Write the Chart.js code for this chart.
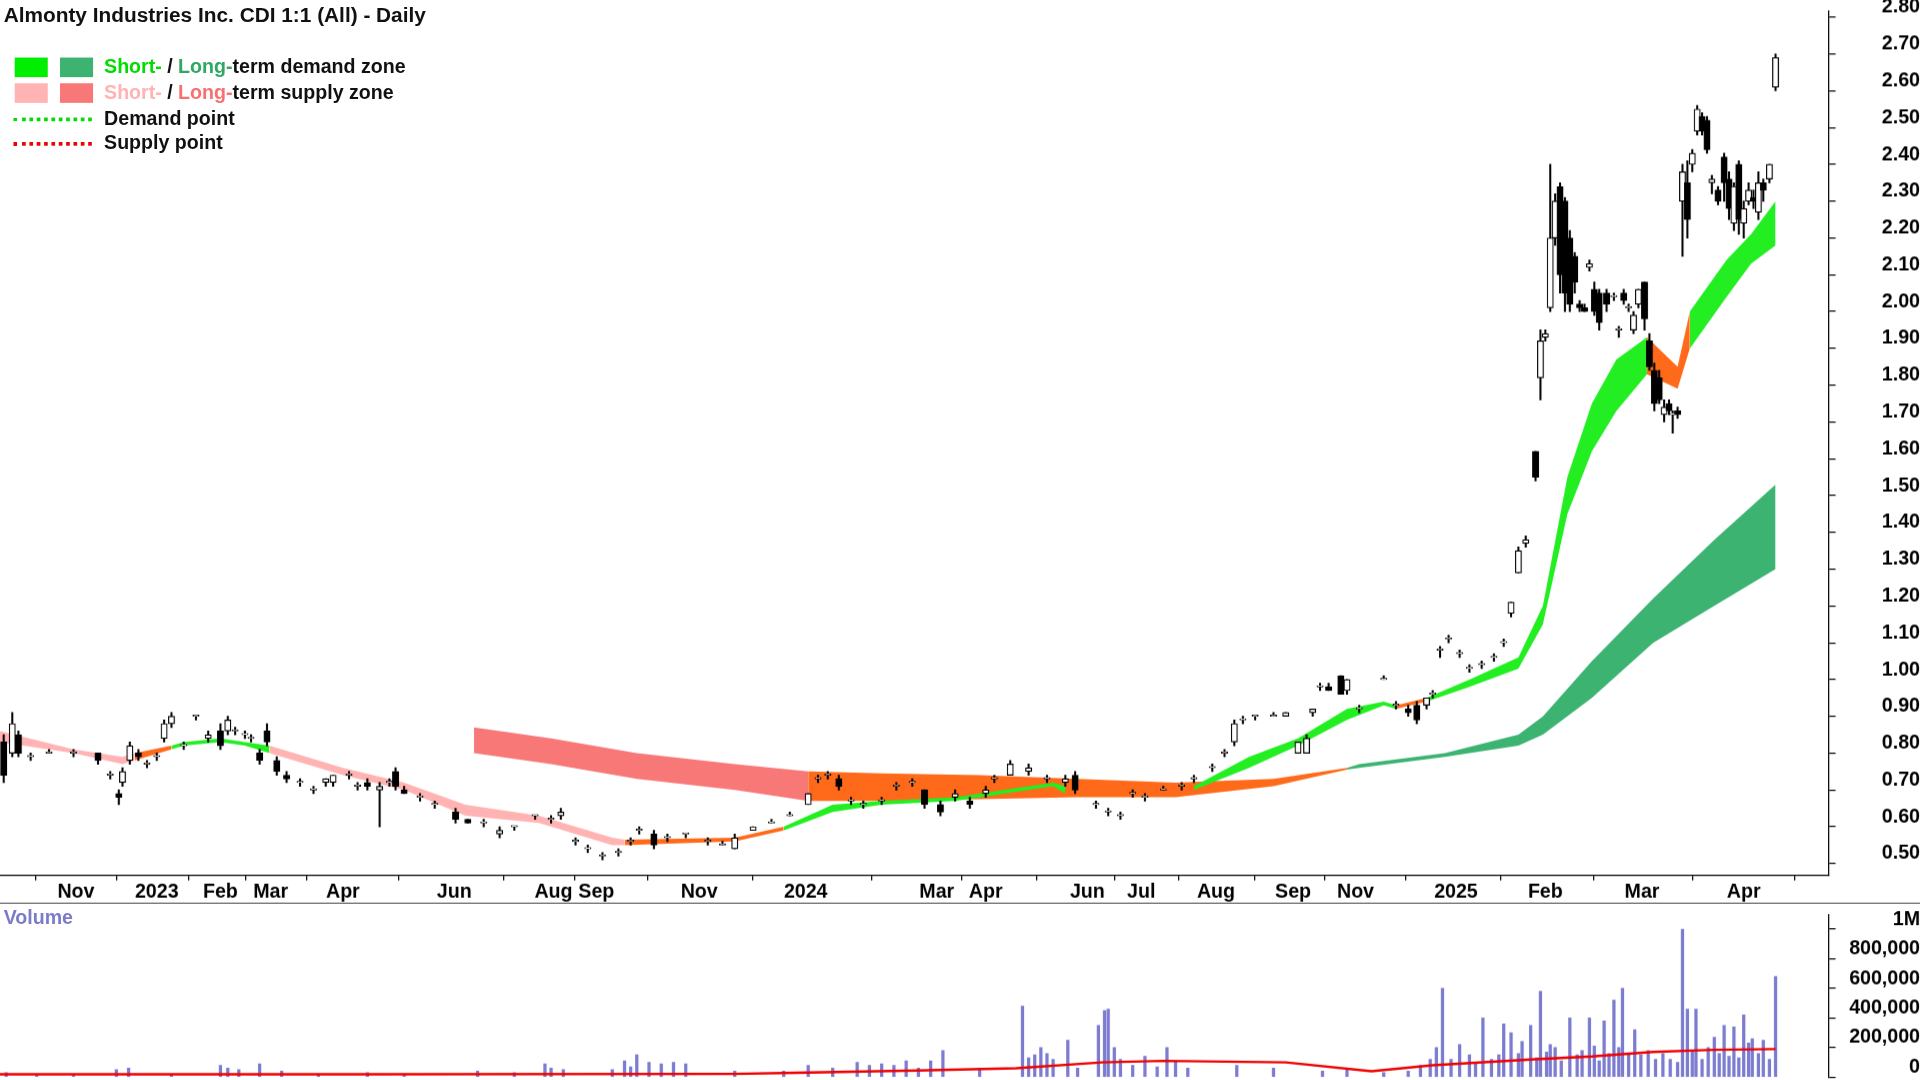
<!DOCTYPE html>
<html><head><meta charset="utf-8">
<script src="https://cdn.jsdelivr.net/npm/chart.js@4.4.1/dist/chart.umd.min.js"></script>
<style>
body{margin:0;background:#fff;width:1920px;height:1080px;overflow:hidden;font-family:Arial,"Liberation Sans",sans-serif}
#wrap{position:absolute;left:0;top:0;width:1568px;height:882px;transform:scale(1.22449);transform-origin:0 0}
#c1{position:absolute;left:0;top:-12px}
#c2{position:absolute;left:0;top:726px}
.t{position:absolute;font-weight:bold;font-size:16px;color:#111;white-space:nowrap}
.sw{position:absolute;width:27px;height:16px}
.dl{position:absolute;width:64px;height:0;border-top:3px dotted}
</style></head><body>
<div id="wrap">
<canvas id="c1" style="width:1568px;height:750px"></canvas>
<canvas id="c2" style="width:1568px;height:155px"></canvas>
<div class="t" style="left:3px;top:3px;font-size:17px">Almonty Industries Inc. CDI 1:1 (All) - Daily</div>
<div class="sw" style="left:12px;top:47px;background:#00ee00"></div>
<div class="sw" style="left:49px;top:47px;background:#3cb371"></div>
<div class="t" style="left:85px;top:46px"><span style="color:#00dd00">Short-</span> / <span style="color:#2ea862">Long-</span>term demand zone</div>
<div class="sw" style="left:12px;top:68px;background:#ffb3b3"></div>
<div class="sw" style="left:49px;top:68px;background:#f87878"></div>
<div class="t" style="left:85px;top:67px"><span style="color:#ffb3b3">Short-</span> / <span style="color:#f87070">Long-</span>term supply zone</div>
<div class="dl" style="left:11px;top:96px;border-color:#00dd00"></div>
<div class="t" style="left:85px;top:88px">Demand point</div>
<div class="dl" style="left:11px;top:116px;border-color:#ee0000"></div>
<div class="t" style="left:85px;top:108px">Supply point</div>
<div class="t" style="left:3px;top:741px;color:#7b7bc8;font-size:16px">Volume</div>
</div>
<script>
// session-slot positions of month labels
const monthTicks=[62,128,180,221,280,371,452,487,571,658,765,805,888,932,993,1056,1107,1189,1262,1341,1424];
const monthLabels=["Nov","2023","Feb","Mar","Apr","Jun","Aug","Sep","Nov","2024","Mar","Apr","Jun","Jul","Aug","Sep","Nov","2025","Feb","Mar","Apr"];
const priceTicks=[0.5,0.6,0.7,0.8,0.9,1.0,1.1,1.2,1.3,1.4,1.5,1.6,1.7,1.8,1.9,2.0,2.1,2.2,2.3,2.4,2.5,2.6,2.7,2.8];
// candles: [slot, open, high, low, close]
const candles=[
[3,0.83,0.85,0.72,0.74],[10,0.80,0.91,0.79,0.88],[15,0.85,0.86,0.79,0.80],[25,0.79,0.80,0.78,0.79],[40,0.80,0.81,0.80,0.80],
[60,0.80,0.81,0.79,0.80],[80,0.80,0.80,0.77,0.78],[90,0.74,0.75,0.73,0.74],[97,0.69,0.70,0.66,0.68],[100,0.72,0.76,0.71,0.75],
[106,0.78,0.83,0.77,0.82],[113,0.80,0.81,0.78,0.79],[120,0.77,0.78,0.76,0.77],[128,0.79,0.80,0.78,0.79],[134,0.84,0.89,0.83,0.88],
[140,0.88,0.91,0.87,0.90],[150,0.82,0.83,0.81,0.82],[160,0.90,0.90,0.89,0.90],[170,0.84,0.86,0.83,0.85],[180,0.86,0.88,0.81,0.82],
[186,0.86,0.90,0.85,0.89],[192,0.86,0.87,0.85,0.86],[200,0.85,0.86,0.84,0.85],[205,0.84,0.85,0.83,0.84],[212,0.80,0.81,0.77,0.78],
[218,0.86,0.88,0.82,0.83],[226,0.78,0.79,0.74,0.75],[234,0.74,0.75,0.72,0.73],[245,0.72,0.73,0.71,0.72],[256,0.70,0.71,0.69,0.70],
[266,0.72,0.73,0.71,0.73],[272,0.72,0.74,0.71,0.74],[285,0.74,0.75,0.73,0.74],[292,0.71,0.72,0.70,0.71],[300,0.72,0.73,0.70,0.71],
[310,0.70,0.72,0.60,0.71],[318,0.72,0.73,0.71,0.72],[323,0.75,0.76,0.70,0.71],[330,0.70,0.71,0.69,0.69],[343,0.68,0.69,0.67,0.68],
[355,0.66,0.67,0.65,0.66],[372,0.64,0.65,0.61,0.62],[382,0.62,0.62,0.61,0.61],[395,0.61,0.62,0.60,0.61],[408,0.58,0.60,0.57,0.59],
[420,0.60,0.60,0.59,0.60],[437,0.63,0.63,0.62,0.63],[450,0.62,0.63,0.61,0.62],[458,0.63,0.65,0.62,0.64],[470,0.56,0.57,0.55,0.56],
[480,0.54,0.55,0.53,0.54],[492,0.52,0.53,0.51,0.52],[505,0.53,0.54,0.52,0.53],[515,0.56,0.57,0.55,0.56],[522,0.59,0.60,0.58,0.59],
[534,0.58,0.59,0.54,0.55],[545,0.57,0.58,0.56,0.57],[560,0.58,0.58,0.57,0.58],[578,0.56,0.57,0.55,0.56],[590,0.55,0.56,0.55,0.55],
[600,0.54,0.58,0.54,0.57],[615,0.59,0.60,0.59,0.60],[630,0.61,0.62,0.61,0.61],[645,0.63,0.64,0.63,0.63],[660,0.66,0.69,0.66,0.69],
[668,0.73,0.74,0.72,0.73],[676,0.74,0.75,0.73,0.74],[685,0.73,0.74,0.70,0.71],[695,0.67,0.68,0.66,0.67],[705,0.66,0.67,0.65,0.66],
[720,0.67,0.68,0.66,0.67],[732,0.71,0.72,0.70,0.71],[745,0.72,0.73,0.71,0.72],[755,0.70,0.70,0.65,0.66],[768,0.66,0.67,0.63,0.64],
[780,0.68,0.70,0.67,0.69],[792,0.67,0.68,0.65,0.66],[805,0.69,0.71,0.68,0.70],[812,0.73,0.74,0.72,0.73],[825,0.74,0.78,0.74,0.77],
[840,0.75,0.77,0.74,0.76],[855,0.73,0.74,0.72,0.73],[870,0.72,0.74,0.71,0.73],[878,0.74,0.75,0.69,0.70],[895,0.66,0.67,0.65,0.66],
[905,0.64,0.65,0.63,0.64],[915,0.63,0.64,0.62,0.63],[925,0.69,0.70,0.68,0.69],[935,0.68,0.69,0.67,0.68],[950,0.70,0.71,0.70,0.70],
[965,0.71,0.72,0.70,0.71],[975,0.73,0.74,0.72,0.73],[990,0.76,0.77,0.75,0.76],[1000,0.80,0.81,0.79,0.80],[1008,0.83,0.89,0.82,0.88],
[1015,0.89,0.90,0.88,0.89],[1025,0.90,0.90,0.89,0.90],[1040,0.90,0.91,0.90,0.90],[1050,0.90,0.91,0.90,0.91],[1060,0.80,0.83,0.80,0.83],
[1067,0.80,0.85,0.80,0.84],[1072,0.91,0.92,0.90,0.92],[1078,0.98,0.99,0.97,0.98],[1085,0.98,0.99,0.97,0.97],[1095,1.01,1.01,0.96,0.96],
[1100,0.97,1.00,0.96,1.00],[1110,0.92,0.93,0.91,0.92],[1130,1.00,1.01,1.00,1.00],[1140,0.93,0.94,0.92,0.93],[1150,0.92,0.93,0.90,0.91],
[1157,0.93,0.94,0.88,0.89],[1165,0.93,0.95,0.92,0.95],[1170,0.96,0.97,0.95,0.96],[1176,1.08,1.09,1.06,1.08],[1183,1.11,1.12,1.10,1.11],
[1192,1.07,1.08,1.06,1.07],[1200,1.03,1.04,1.02,1.03],[1210,1.04,1.05,1.03,1.04],[1220,1.06,1.07,1.05,1.06],[1228,1.10,1.11,1.09,1.10],
[1234,1.18,1.21,1.17,1.21],[1240,1.29,1.36,1.29,1.35],[1246,1.37,1.39,1.36,1.38],[1254,1.62,1.62,1.54,1.55],[1258,1.82,1.95,1.76,1.92],
[1262,1.93,1.95,1.92,1.94],[1266,2.01,2.40,2.00,2.20],[1270,2.20,2.32,2.18,2.30],[1274,2.34,2.35,2.05,2.10],[1278,2.30,2.31,2.00,2.05],
[1282,2.20,2.22,2.00,2.02],[1286,2.15,2.16,2.05,2.08],[1290,2.02,2.03,2.00,2.01],[1294,2.01,2.02,2.00,2.00],[1298,2.12,2.14,2.11,2.13],
[1302,2.06,2.08,1.99,2.00],[1306,2.05,2.06,1.95,1.97],[1312,2.05,2.06,2.00,2.02],[1318,2.04,2.05,2.03,2.04],[1322,1.95,1.96,1.93,1.95],
[1326,2.05,2.06,2.02,2.03],[1330,2.01,2.02,2.00,2.01],[1334,1.95,2.00,1.94,1.99],[1338,2.02,2.06,2.01,2.06],[1343,2.08,2.08,1.95,1.98],
[1347,1.92,1.94,1.84,1.85],[1351,1.84,1.86,1.73,1.75],[1355,1.82,1.84,1.75,1.76],[1359,1.72,1.76,1.70,1.74],[1363,1.75,1.76,1.72,1.73],
[1366,1.72,1.73,1.67,1.72],[1370,1.73,1.74,1.71,1.72],[1374,2.30,2.40,2.15,2.38],[1378,2.35,2.41,2.20,2.25],[1382,2.40,2.44,2.38,2.43],
[1386,2.49,2.56,2.48,2.55],[1390,2.53,2.54,2.48,2.49],[1394,2.52,2.53,2.43,2.44],[1398,2.35,2.37,2.32,2.36],[1403,2.33,2.34,2.29,2.30],
[1408,2.42,2.43,2.30,2.35],[1412,2.36,2.38,2.25,2.28],[1416,2.24,2.35,2.22,2.34],[1420,2.40,2.41,2.21,2.25],[1424,2.24,2.30,2.20,2.28],
[1428,2.30,2.35,2.29,2.33],[1432,2.31,2.33,2.28,2.30],[1436,2.27,2.38,2.25,2.35],[1440,2.35,2.36,2.30,2.33],[1445,2.36,2.40,2.35,2.40],
[1450,2.61,2.70,2.60,2.69]];
// short-term zone: slot, upper, lower, zone type
const stX=[0,60,100,110,140,150,180,200,220,280,330,380,440,500,510,600,640,680,720,780,820,860,870,940,975,1020,1060,1100,1130,1140,1165,1200,1240,1260,1280,1300,1320,1345,1370,1380,1410,1430,1450];
const stU=[0.86,0.81,0.79,0.80,0.82,0.83,0.84,0.83,0.82,0.76,0.72,0.66,0.63,0.57,0.565,0.57,0.60,0.66,0.67,0.68,0.70,0.72,0.71,0.70,0.71,0.79,0.84,0.92,0.94,0.93,0.95,1.00,1.06,1.20,1.55,1.75,1.87,1.93,1.85,2.00,2.14,2.21,2.30];
const stL=[0.83,0.80,0.77,0.78,0.81,0.82,0.83,0.82,0.80,0.74,0.70,0.63,0.61,0.55,0.55,0.56,0.59,0.64,0.66,0.67,0.69,0.71,0.69,0.69,0.70,0.76,0.82,0.89,0.93,0.92,0.94,0.98,1.03,1.15,1.45,1.62,1.73,1.83,1.79,1.90,2.04,2.13,2.18];
const stZ=["ss","ss","ss","or","dd","dd","dd","dd","ss","ss","ss","ss","ss","ss","or","or","dd","dd","dd","dd","dd","dd","or","or","dd","dd","dd","dd","dd","or","dd","dd","dd","dd","dd","dd","dd","or","or","dd","dd","dd","dd"];
// long-term zone
const ltX=[387,450,520,600,660,720,800,880,960,1040,1100,1110,1180,1240,1260,1300,1350,1400,1450];
const ltU=[0.87,0.84,0.80,0.77,0.75,0.745,0.74,0.73,0.72,0.73,0.76,0.77,0.80,0.85,0.90,1.05,1.22,1.38,1.53];
const ltL=[0.80,0.77,0.73,0.70,0.67,0.67,0.675,0.68,0.68,0.71,0.755,0.76,0.79,0.82,0.85,0.95,1.10,1.20,1.30];
const ltZ=["ls","ls","ls","ls","or","or","or","or","or","or","ld","ld","ld","ld","ld","ld","ld","ld","ld"];
// volume
const volX=[5,30,60,95,105,140,180,186,195,212,230,260,300,330,390,420,445,450,460,500,510,515,520,530,540,550,560,600,640,660,680,700,710,720,730,740,750,760,770,800,835,840,845,850,855,860,872,880,897,902,905,910,915,925,935,945,953,960,970,1010,1040,1080,1100,1130,1150,1160,1168,1173,1178,1185,1192,1200,1205,1211,1218,1224,1228,1234,1240,1243,1250,1255,1258,1263,1266,1270,1275,1282,1288,1292,1298,1302,1306,1310,1314,1318,1322,1325,1330,1335,1340,1346,1352,1358,1364,1370,1374,1378,1382,1385,1390,1395,1400,1404,1408,1412,1416,1420,1424,1428,1431,1436,1440,1445,1450];
const volV=[30000,15000,20000,50000,60000,20000,80000,60000,50000,90000,40000,20000,30000,20000,40000,30000,90000,60000,50000,50000,110000,70000,150000,100000,90000,100000,90000,40000,40000,80000,60000,100000,80000,90000,80000,110000,60000,110000,180000,60000,480000,130000,150000,200000,160000,120000,250000,60000,350000,450000,460000,200000,120000,80000,140000,70000,200000,110000,60000,80000,60000,40000,50000,30000,40000,80000,120000,200000,600000,120000,220000,150000,90000,400000,120000,150000,360000,300000,160000,240000,350000,130000,580000,170000,220000,200000,110000,400000,150000,180000,400000,210000,110000,380000,160000,520000,200000,600000,150000,320000,150000,180000,120000,160000,120000,100000,1000000,460000,180000,460000,120000,200000,270000,160000,350000,140000,340000,130000,420000,230000,260000,160000,250000,120000,680000];
const maX=[0,300,600,650,750,830,900,950,1050,1120,1170,1250,1300,1350,1400,1450];
const maV=[20000,20000,22000,30000,45000,60000,100000,110000,100000,40000,80000,120000,140000,170000,185000,190000];

const COL={ss:"#ffb3b3",ls:"#f87878",or:"#ff6a1a",dd:"#22ee22",ld:"#3cb371"};
function bandSets(xs,up,lo,zs,order){
  const out=[];let s=0;
  for(let i=1;i<=xs.length;i++){
    if(i===xs.length||zs[i]!==zs[s]){
      const end=Math.min(i,xs.length-1);
      const L=[],U=[];
      for(let k=s;k<=end;k++){L.push({x:xs[k],y:lo[k]});U.push({x:xs[k],y:up[k]});}
      out.push({type:"line",data:L,pointRadius:0,borderWidth:0,fill:false,order:order});
      out.push({type:"line",data:U,pointRadius:0,borderWidth:0,fill:"-1",backgroundColor:COL[zs[s]],order:order});
      s=i;
    }
  }
  return out;
}
const datasets=[];
datasets.push(...bandSets(ltX,ltU,ltL,ltZ,4));
datasets.push(...bandSets(stX,stU,stL,stZ,3));
datasets.push({type:"bar",data:candles.map(c=>({x:c[0],y:[c[3],c[2]]})),backgroundColor:"#000",barThickness:1,grouped:false,order:1});
datasets.push({type:"bar",data:candles.map(c=>({x:c[0],y:[c[1],c[4]]})),backgroundColor:candles.map(c=>c[4]>=c[1]?"#fff":"#000"),borderColor:"#000",borderWidth:1,borderSkipped:false,barThickness:5,minBarLength:1,grouped:false,order:0});

const DPR=1.22449;
const tickFont={family:"Arial",size:16,weight:"bold"};
const W=75;
new Chart(document.getElementById("c1"),{
  type:"bar",data:{datasets},
  options:{responsive:false,animation:false,events:[],devicePixelRatio:DPR,
    layout:{padding:0},
    plugins:{legend:{display:false},tooltip:{enabled:false}},
    scales:{
      x:{type:"linear",min:0,max:1493,offset:false,
        afterBuildTicks:a=>{a.ticks=monthTicks.map(v=>({value:v}));},
        ticks:{autoSkip:false,maxRotation:0,color:"#000",font:tickFont,padding:0,callback:(v)=>monthLabels[monthTicks.indexOf(v)]},
        grid:{drawOnChartArea:false,color:"#000",tickLength:4},border:{color:"#000"}},
      y:{position:"right",min:0.467,max:2.816,
        afterBuildTicks:a=>{a.ticks=priceTicks.map(v=>({value:v}));},
        afterFit:a=>{a.width=W;},
        ticks:{color:"#000",font:tickFont,align:"end",padding:2,callback:v=>v.toFixed(2),crossAlign:"far"},
        grid:{drawOnChartArea:false,color:"#000",tickLength:6},border:{color:"#000"}}
    }},
  plugins:[{id:"bl",afterDraw(c){const x=c.ctx;x.save();x.strokeStyle="#000";x.lineWidth=1;x.beginPath();x.moveTo(0,749.5);x.lineTo(1568,749.5);x.stroke();x.restore();}}]
});
new Chart(document.getElementById("c2"),{
  type:"bar",
  data:{datasets:[
    {type:"line",data:maX.map((x,i)=>({x,y:maV[i]})),borderColor:"#ee0000",borderWidth:2,pointRadius:0,order:0},
    {type:"bar",data:volX.map((x,i)=>({x,y:volV[i]})),backgroundColor:"#7b7bd0",barThickness:2,order:1}
  ]},
  options:{responsive:false,animation:false,events:[],devicePixelRatio:DPR,layout:{padding:0},
    plugins:{legend:{display:false},tooltip:{enabled:false}},
    scales:{
      x:{type:"linear",min:0,max:1493,offset:false,display:false},
      y:{position:"right",min:0,max:1096000,
        afterBuildTicks:a=>{a.ticks=[0,200000,400000,600000,800000,1000000].map(v=>({value:v}));},
        afterFit:a=>{a.width=W;},
        ticks:{color:"#000",font:tickFont,align:"end",crossAlign:"far",padding:2,callback:v=>v===1000000?"1M":v.toLocaleString("en-US")},
        grid:{drawOnChartArea:false,color:"#000",tickLength:6},border:{color:"#000"}}
    }}
});
</script></body></html>
